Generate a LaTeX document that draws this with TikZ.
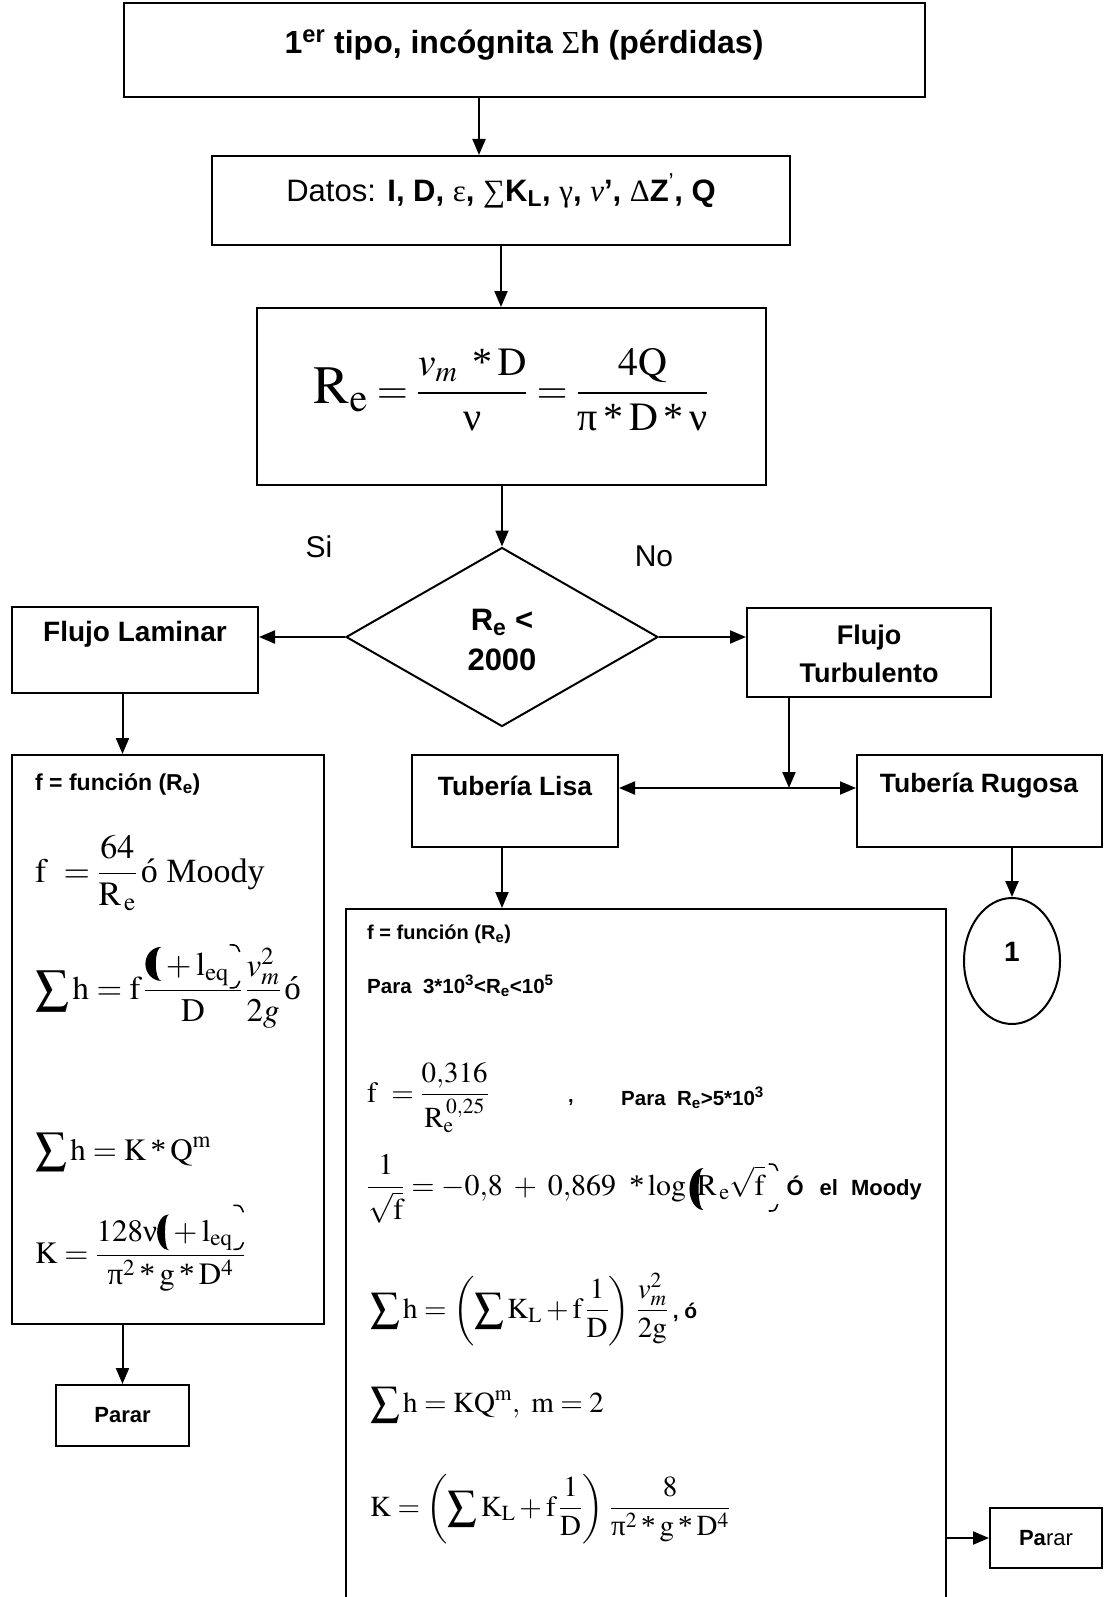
\documentclass[tikz,border=0pt]{standalone}
\usepackage{mathptmx}
\usepackage[no-math]{fontspec}
\setmainfont{Liberation Sans}
\newfontfamily\serif{Liberation Serif}
\usetikzlibrary{arrows.meta,shapes.geometric}

\newcommand\fsz[1]{\fontsize{#1}{#1}\selectfont}
% upright Greek letters and a raised asterisk, as in Times text
\newcommand\upnu{\mbox{\serif ν}}
\newcommand\uppi{\mbox{\serif π}}
\newcommand\tast{\mathbin{\mbox{\serif *}}}
% filled left half-bracket glyph: depth, height, width
\newcommand\brkl[3]{\tikz[baseline=0pt,x=1pt,y=1pt]\fill (#3,-#1)
  arc[x radius=#3,y radius={(#1+#2)/2},start angle=270,end angle=90]
  arc[x radius={0.35*#3},y radius={(#1+#2)/2},start angle=90,end angle=270] -- cycle;}
% broken right bracket, only its two ends: depth, height, width
\newcommand\brkr[3]{\tikz[baseline=0pt,x=1pt,y=1pt,line width=1.6pt]{%
  \draw (0,#2) .. controls (0.7*#3,#2) .. (#3,#2-7);
  \draw (#3,-#1+7) .. controls (0.7*#3,-#1) .. (0,-#1);}}

\begin{document}
\begin{tikzpicture}[x=1pt,y=-1pt,
  box/.style={draw,line width=2pt,rectangle,inner sep=0pt},
  arr/.style={line width=2pt,-{Triangle[length=16pt,width=13pt]}},
  txt/.style={inner sep=0pt},
  ltx/.style={inner sep=0pt,anchor=base west},
]
\useasboundingbox (0,0) rectangle (1106,1597);
\fill[white] (0,0) rectangle (1106,1597);

% boxes
\node[box,minimum width=801pt,minimum height=94pt] (top) at (524.5,50) {};
\node[box,minimum width=578pt,minimum height=89pt] (datos) at (501,200.5) {};
\node[box,minimum width=509pt,minimum height=177pt] (rebox) at (511.5,396.5) {};
\node[draw,line width=2pt,diamond,minimum width=312pt,minimum height=179pt,inner sep=0pt] (dia) at (502,637) {};
\node[box,minimum width=246pt,minimum height=86pt] (lam) at (135,650) {};
\node[box,minimum width=244pt,minimum height=89pt] (turb) at (869,652.5) {};
\node[box,minimum width=312pt,minimum height=569pt] (lbox) at (168,1039.5) {};
\node[box,minimum width=133pt,minimum height=61pt,font=\fsz{22}\bfseries] (parL) at (122.5,1415.5) {Parar};
\node[box,minimum width=206pt,minimum height=92pt] (lisa) at (515,801) {};
\node[box,minimum width=245pt,minimum height=92pt] (rug) at (979.5,801) {};
\node[draw,line width=2pt,ellipse,minimum width=96pt,minimum height=126pt,inner sep=0pt] (circ) at (1012,961) {};
\node[box,minimum width=600pt,minimum height=751pt] (rbox) at (646,1284.5) {};
\node[box,minimum width=112pt,minimum height=60pt,font=\fsz{22}] (parR) at (1046,1538) {\textbf{Pa}rar};

% labels
\node[txt,font=\fsz{32}\bfseries] (ttl) at (524,45) {1\textsuperscript{er} tipo, incógnita {\serif\mdseries Σ}h (pérdidas)};
\node[txt,font=\fsz{31}] (dtx) at (501,191) {Datos: \textbf{I, D, }{\serif ε}\textbf{, }{\serif ∑}\textbf{K\textsubscript{L}, }{\serif γ}\textbf{, }{\serif\itshape ν}\textbf{’, }{\serif Δ}\textbf{Z}\textsuperscript{’}\textbf{, Q}};
\node[txt,font=\fsz{40}] (retx) at (511,390) {$\displaystyle\mbox{\fsz{54}$\mathrm{R}_{\mathrm{e}}$}=\frac{v_m\;\tast\mathrm{D}}{\upnu}=\frac{4\mathrm{Q}}{\uppi\tast\mathrm{D}\tast\upnu}$};
\node[txt,font=\fsz{31}\bfseries,align=center] (dtxt) at (502,640) {R\textsubscript{e} <\\[9pt]2000};
\node[txt,font=\fsz{30}] (si) at (319,547) {Si};
\node[txt,font=\fsz{30}] (no) at (654,556) {No};
\node[txt,font=\fsz{28}\bfseries] (lamt) at (135,634) {Flujo Laminar};
\node[txt,font=\fsz{27}\bfseries,align=center] (turbt) at (869,654) {Flujo\\[11pt]Turbulento};
\node[txt,font=\fsz{26.5}\bfseries] (lisat) at (515,786) {Tubería Lisa};
\node[txt,font=\fsz{26.5}\bfseries] (rugt) at (979,786) {Tubería Rugosa};
\node[txt,font=\fsz{28}\bfseries] (one) at (1012,952) {1};

% laminar flow box
\node[ltx,font=\fsz{23}\bfseries] (l1) at (35,790) {f = función (R\textsubscript{e})};
\node[ltx,font=\fsz{34}] (l2) at (35,882) {$\displaystyle\mathrm{f}\ =\frac{64}{\mathrm{R}_{\,\mathrm{e}}}\,\mbox{\serif ó Moody}$};
\node[ltx,font=\fsz{33}] (l3) at (35,999) {$\displaystyle\sum\mathrm{h}=\mathrm{f}\,\frac{\brkl{5}{29}{16}+\mathrm{l}_{\mathrm{eq}}\smash{\brkr{12}{31}{10}}}{\mathrm{D}}\,\frac{v_m^2}{2g}\,\mbox{\serif ó}$};
\node[ltx,font=\fsz{31}] (l4) at (35,1160) {$\displaystyle\sum\mathrm{h}=\mathrm{K}\tast\mathrm{Q}^{\mathrm{m}}$};
\node[ltx,font=\fsz{31}] (l5) at (35,1263) {$\displaystyle\mathrm{K}=\frac{128\upnu\brkl{9}{27}{12}+\mathrm{l}_{\mathrm{eq}}\smash{\brkr{8}{36}{10}}}{\uppi^2\tast\mathrm{g}\tast\mathrm{D}^4}$};

% smooth pipe box
\node[ltx,font=\fsz{20}\bfseries] (r1) at (367,939) {f = función (R\textsubscript{e})};
\node[ltx,font=\fsz{20.5}\bfseries] (r2) at (367,993) {Para\ \ 3*10\textsuperscript{3}<R\textsubscript{e}<10\textsuperscript{5}};
\node[ltx,font=\fsz{29}] (r3) at (367,1102) {$\displaystyle\mathrm{f}\ =\frac{0{,}316}{\mathrm{R}_{\mathrm{e}}^{\,0{,}25}}$};
\node[ltx,font=\fsz{20}\bfseries] (r3b) at (568,1102) {,};
\node[ltx,font=\fsz{20.5}\bfseries] (r3c) at (621,1105) {Para\ \ R\textsubscript{e}>5*10\textsuperscript{3}};
\node[ltx,font=\fsz{30}] (r4) at (367,1195) {$\displaystyle\frac{1}{\sqrt{\mathrm{f}}}=-0{,}8\;+\;0{,}869\;\;{\mbox{\serif *}}\log\brkl{15}{27}{14}\mkern-4mu\mathrm{R}_{\,\mathrm{e}}\sqrt{\mathrm{f}}\,\smash{\brkr{16}{31}{9}}$\hspace{8pt}{\fsz{22}\bfseries Ó\hspace{16pt}el\hspace{13pt}Moody}};
\node[ltx,font=\fsz{29}] (r5) at (370,1318) {$\displaystyle\sum\mathrm{h}=\left(\sum\mathrm{K}_{\mathrm{L}}+\mathrm{f}\,\frac{1}{\mathrm{D}}\right)\,\frac{v_m^2}{2\mathrm{g}}$\,{\fsz{21}\bfseries, ó}};
\node[ltx,font=\fsz{29}] (r6) at (370,1412) {$\displaystyle\sum\mathrm{h}=\mathrm{KQ}^{\mathrm{m}},\ \mathrm{m}=2$};
\node[ltx,font=\fsz{29}] (r7) at (370,1516) {$\displaystyle\mathrm{K}=\left(\sum\mathrm{K}_{\mathrm{L}}+\mathrm{f}\,\frac{1}{\mathrm{D}}\right)\,\frac{8}{\uppi^2\tast\mathrm{g}\tast\mathrm{D}^4}$};

% connectors
\coordinate (xa) at (479,0);
\coordinate (j) at (789,788);
\draw[arr] (top.south -| xa) -- (datos.north -| xa);
\draw[arr] (datos.south) -- (datos.south |- rebox.north);
\draw[arr] (dia.north |- rebox.south) -- (dia.north);
\draw[arr] (dia.west) -- (dia.west -| lam.east);
\draw[arr] (dia.east) -- (dia.east -| turb.west);
\draw[arr] (lam.south -| parL) -- (lbox.north -| parL);
\draw[arr] (lbox.south -| parL) -- (parL.north);
\draw[arr] (turb.south -| j) -- (j);
\draw[arr] (j) -- (j -| lisa.east);
\draw[arr] (j) -- (j -| rug.west);
\draw[arr] (lisa.south -| dia.south) -- (rbox.north -| dia.south);
\draw[arr] (rug.south -| circ.north) -- (circ.north);
\draw[arr] (rbox.east |- parR.west) -- (parR.west);
\end{tikzpicture}
\end{document}
